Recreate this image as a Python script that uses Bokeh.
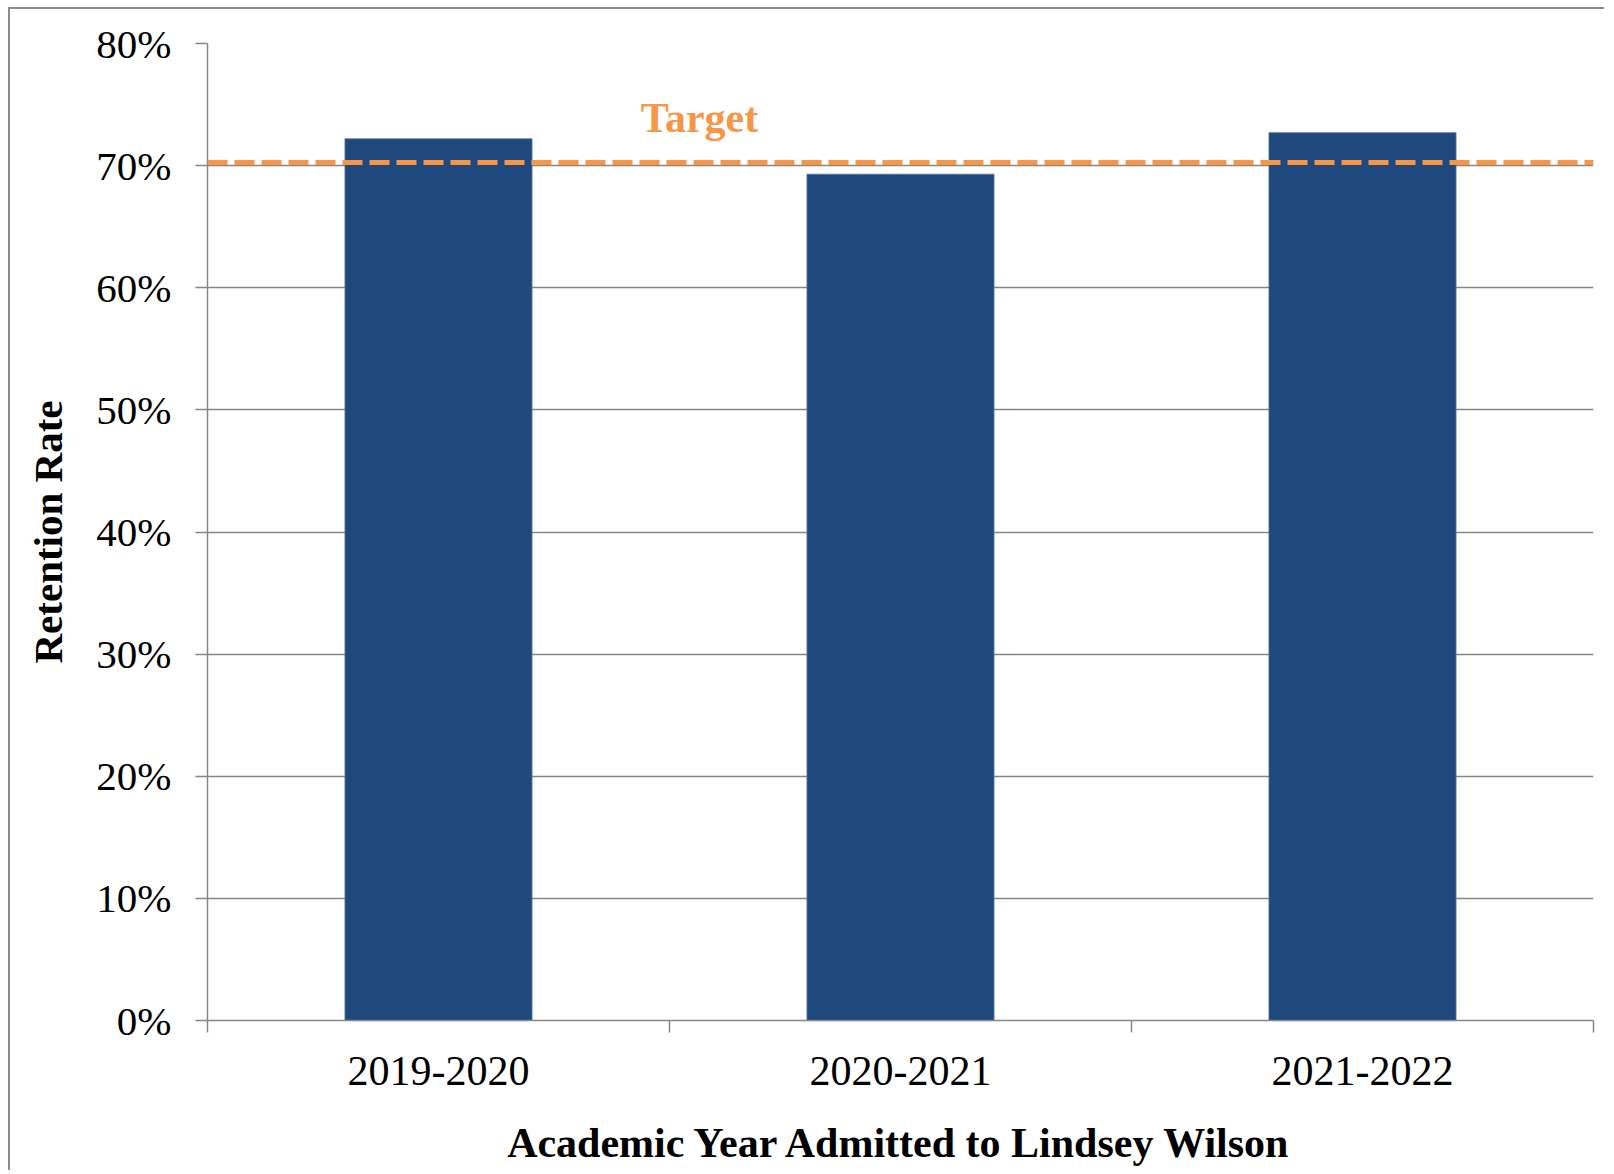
import numpy as np
from bokeh.plotting import figure
from bokeh.models import FixedTicker, NumeralTickFormatter, Span, Range1d, Label
from bokeh.embed import file_html
from bokeh.resources import INLINE

# ---- data ----
categories = ["2019-2020", "2020-2021", "2021-2022"]
retention = [0.722, 0.693, 0.727]
target = 0.7025
target_label = "Target"
y_ticks = [0.0, 0.1, 0.2, 0.3, 0.4, 0.5, 0.6, 0.7, 0.8]
x_title = "Academic Year Admitted to Lindsey Wilson"
y_title = "Retention Rate"

FONT = "Liberation Serif"
BAR = "#1F497D"
ORANGE = "#F79646"
GRAY = "#868686"

n = len(categories)
x_pos = np.arange(n) + 0.5
bounds = list(np.arange(n + 1).astype(float))

p = figure(width=1596, height=1163,
           x_range=Range1d(0, n), y_range=Range1d(y_ticks[0], y_ticks[-1]),
           output_backend="svg", toolbar_location=None,
           min_border_left=197, min_border_right=13,
           min_border_top=34, min_border_bottom=152)
p.styles = {"border-left": "2px solid #8c8c8c", "border-top": "2px solid #8c8c8c",
            "margin-left": "8px", "margin-top": "7px"}
p.outline_line_color = None
p.background_fill_color = "white"
p.border_fill_color = "white"

p.vbar(x=x_pos, top=retention, width=0.405, bottom=0,
       fill_color=BAR, line_color="#5b7aa3", line_width=0.8)

p.add_layout(Span(location=target, dimension="width", line_color=ORANGE,
                  line_width=5, line_dash="20 7"))
p.add_layout(Label(x=1.065, y=0.739, text=target_label, text_color=ORANGE,
                   text_font=FONT, text_font_style="bold", text_font_size="42px",
                   text_align="center", text_baseline="alphabetic"))

# y axis
p.yaxis.ticker = FixedTicker(ticks=y_ticks)
p.yaxis.formatter = NumeralTickFormatter(format="0%")
p.yaxis.major_label_text_font = FONT
p.yaxis.major_label_text_font_size = "41px"
p.yaxis.major_label_text_color = "black"
p.yaxis.major_tick_out = 12
p.yaxis.major_tick_in = 0
p.yaxis.minor_tick_out = 0
p.yaxis.minor_tick_in = 0
p.yaxis.major_label_standoff = 24
p.yaxis.axis_line_color = GRAY
p.yaxis.axis_line_width = 1.5
p.yaxis.major_tick_line_color = GRAY
p.yaxis.major_tick_line_width = 1.5
p.yaxis.axis_label = y_title
p.yaxis.axis_label_text_font = FONT
p.yaxis.axis_label_text_font_style = "bold"
p.yaxis.axis_label_text_font_size = "41px"
p.yaxis.axis_label_text_color = "black"
p.yaxis.axis_label_standoff = 22

# x axis
p.xaxis.ticker = FixedTicker(ticks=list(x_pos), minor_ticks=bounds)
p.xaxis.major_label_overrides = {float(x): c for x, c in zip(x_pos, categories)}
p.xaxis.major_label_text_font = FONT
p.xaxis.major_label_text_font_size = "42px"
p.xaxis.major_label_text_color = "black"
p.xaxis.major_tick_out = 0
p.xaxis.major_tick_in = 0
p.xaxis.minor_tick_out = 12
p.xaxis.minor_tick_in = 0
p.xaxis.minor_tick_line_color = GRAY
p.xaxis.minor_tick_line_width = 1.5
p.xaxis.major_label_standoff = 24
p.xaxis.axis_line_color = GRAY
p.xaxis.axis_line_width = 1.5
p.xaxis.axis_label = x_title
p.xaxis.axis_label_text_font = FONT
p.xaxis.axis_label_text_font_style = "bold"
p.xaxis.axis_label_text_font_size = "42px"
p.xaxis.axis_label_text_color = "black"
p.xaxis.axis_label_standoff = 32

p.xgrid.grid_line_color = None
p.ygrid.ticker = FixedTicker(ticks=y_ticks)
p.ygrid.grid_line_color = GRAY
p.ygrid.grid_line_width = 1.5

open("out.html", "w").write(file_html(p, INLINE))
